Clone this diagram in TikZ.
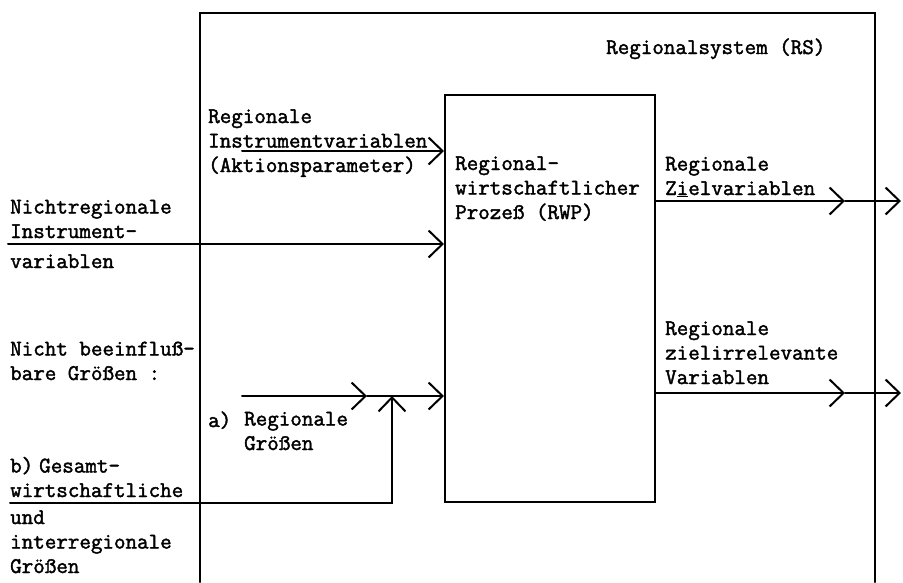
\documentclass[tikz,border=0pt]{standalone}
\usepackage{fontspec}
\newfontfamily\tw[FakeBold=1.8]{Latin Modern Mono}
\usetikzlibrary{arrows.meta}
\tikzset{
  arr/.style={-{Straight Barb[length=14pt,width=27pt,line width=2pt]}},
  ln/.style={line width=2pt, line cap=round},
  txt/.style={anchor=base west, inner sep=0pt, align=left, font=\tw\fontsize{22.4}{24.5}\selectfont},
}
\begin{document}
\begin{tikzpicture}[x=1pt,y=-1pt]
\useasboundingbox (0,0) rectangle (903,582);
% outer system boundary
\coordinate (rsbl) at (200,582);
\coordinate (rstl) at (200,13);
\coordinate (rstr) at (875,13);
\coordinate (rsbr) at (875,582);
\draw[ln] (rsbl) -- (rstl) -- (rstr) -- (rsbr);
\node[txt] (rs) at (606,54) {Regionalsystem (RS)};
% process box
\node[draw, line width=2pt, minimum width=210pt, minimum height=407pt, inner sep=0pt] (rwp) at (550,298.5) {};
\node[txt] (rwpt) at (455,219) {Regional-\\wirtschaftlicher\\Prozeß (RWP)};
% inputs
\node[txt] (rivt) at (208,172) {Regionale\\Instrumentvariablen\\(Aktionsparameter)};
\coordinate (riv) at (242,151);
\draw[ln,arr] (riv) -- (riv -| rwp.west);
\node[txt] (nrit) at (10,238) {Nichtregionale\\Instrument-};
\node[txt] (nrit2) at (10,268) {variablen};
\coordinate (nri) at (8,244);
\draw[ln,arr] (nri) -- (nri -| rwp.west);
\node[txt] (nbg) at (10,380) {Nicht beeinfluß-\\bare Größen :};
\node[txt] (rga) at (208,427) {a)};
\node[txt] (rgt) at (244,450) {Regionale\\Größen};
\coordinate (rg) at (242,396);
\coordinate (rgm) at (367,396);
\coordinate (join) at (392,396);
\draw[ln,arr] (rg) -- (rgm);
\draw[ln,arr] (rgm) -- (rgm -| rwp.west);
\node[txt] (gwt) at (10,497) {b)\hspace{6pt}Gesamt-\\wirtschaftliche};
\node[txt] (gwt2) at (10,573) {und\\interregionale\\Größen};
\coordinate (gw) at (10,503);
\draw[ln,arr] (gw) -| (join);
% outputs
\node[txt] (zvt) at (665,195) {Regionale\\Z\underline{i}elvariablen};
\coordinate (z0) at (rwp.east |- 0,201);
\coordinate (z1) at (845,201);
\coordinate (z2) at (901,201);
\draw[ln,arr] (z0) -- (z1);
\draw[ln,arr] (z1) -- (z2);
\node[txt] (zit) at (665,384) {Regionale\\zielirrelevante\\Variablen};
\coordinate (i0) at (rwp.east |- 0,393);
\coordinate (i1) at (845,393);
\coordinate (i2) at (901,393);
\draw[ln,arr] (i0) -- (i1);
\draw[ln,arr] (i1) -- (i2);
\end{tikzpicture}
\end{document}
